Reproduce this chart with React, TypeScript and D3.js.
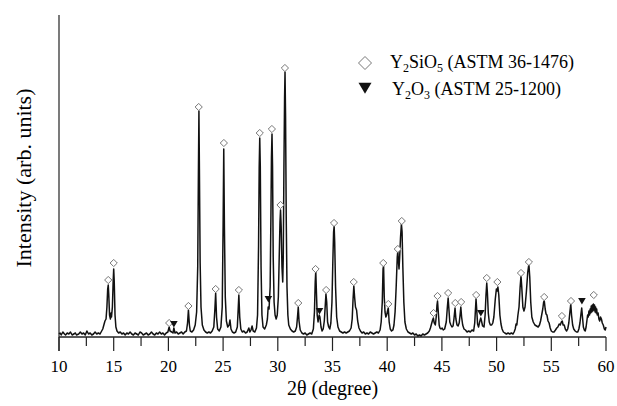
import React from "react";
import * as d3 from "d3";

const W = 617;
const H = 406;
const margin = { top: 15, right: 11, bottom: 69, left: 59 };
const FONT = "Times New Roman, Liberation Serif, Tinos, DejaVu Serif, serif";

// 2-theta (degree) vs intensity (arb. units)
const pattern: [number, number][] = [
  [10.0, 3], [10.1, 4], [10.2, 2], [10.35, 5], [10.5, 3], [10.6, 2], [10.75, 4], [10.9, 3],
  [11.05, 5], [11.2, 2], [11.35, 3], [11.5, 4], [11.6, 2], [11.8, 3], [11.95, 5], [12.1, 3],
  [12.25, 4], [12.4, 2], [12.55, 6], [12.7, 3], [12.85, 4], [13.0, 2], [13.15, 3], [13.3, 5],
  [13.45, 3], [13.6, 4], [13.75, 3], [13.9, 6], [14.0, 8], [14.1, 12], [14.2, 16], [14.3, 18],
  [14.38, 30], [14.45, 48], [14.5, 52], [14.55, 42], [14.62, 22], [14.7, 18], [14.75, 24],
  [14.8, 20], [14.88, 30], [14.95, 55], [15.0, 68], [15.05, 55], [15.12, 22], [15.2, 10],
  [15.3, 6], [15.45, 4], [15.6, 5], [15.75, 3], [15.9, 4], [16.05, 2], [16.2, 4], [16.35, 3],
  [16.5, 5], [16.65, 3], [16.8, 2], [16.95, 4], [17.1, 3], [17.25, 2], [17.4, 5], [17.55, 4],
  [17.7, 2], [17.85, 3], [18.0, 4], [18.15, 2], [18.3, 3], [18.45, 5], [18.6, 3], [18.75, 2],
  [18.9, 4], [19.05, 3], [19.2, 5], [19.35, 3], [19.5, 4], [19.65, 2], [19.8, 4], [19.95, 5],
  [20.07, 10], [20.15, 6], [20.3, 5], [20.42, 4], [20.5, 9], [20.6, 4], [20.75, 5], [20.9, 3],
  [21.05, 4], [21.2, 5], [21.35, 3], [21.5, 5], [21.65, 6], [21.75, 14], [21.83, 27],
  [21.92, 12], [22.0, 6], [22.15, 5], [22.3, 7], [22.45, 12], [22.58, 25], [22.68, 70],
  [22.74, 160], [22.79, 226], [22.84, 160], [22.9, 75], [22.98, 30], [23.1, 12], [23.25, 7],
  [23.4, 5], [23.55, 4], [23.7, 5], [23.85, 4], [24.0, 6], [24.15, 10], [24.25, 28],
  [24.32, 44], [24.4, 20], [24.5, 8], [24.65, 6], [24.8, 10], [24.92, 30], [25.0, 110],
  [25.06, 188], [25.12, 110], [25.2, 40], [25.3, 16], [25.42, 10], [25.55, 12], [25.63, 17],
  [25.72, 8], [25.85, 5], [26.0, 4], [26.15, 5], [26.3, 10], [26.38, 28], [26.44, 42],
  [26.52, 20], [26.62, 8], [26.75, 5], [26.9, 6], [27.05, 4], [27.2, 5], [27.35, 9],
  [27.45, 5], [27.55, 7], [27.65, 11], [27.75, 6], [27.9, 5], [28.05, 9], [28.15, 22],
  [28.24, 90], [28.3, 170], [28.35, 199], [28.4, 170], [28.47, 70], [28.55, 22], [28.65, 10],
  [28.8, 8], [28.95, 12], [29.05, 18], [29.12, 30], [29.2, 28], [29.3, 50], [29.37, 120],
  [29.42, 180], [29.47, 203], [29.52, 170], [29.58, 80], [29.66, 35], [29.75, 22],
  [29.85, 18], [29.95, 22], [30.05, 40], [30.13, 80], [30.2, 115], [30.25, 127], [30.31, 110],
  [30.38, 70], [30.45, 55], [30.5, 80], [30.56, 170], [30.62, 240], [30.66, 265],
  [30.71, 220], [30.77, 120], [30.84, 50], [30.92, 22], [31.0, 12], [31.15, 8], [31.3, 6],
  [31.45, 5], [31.6, 6], [31.72, 10], [31.8, 20], [31.87, 30], [31.94, 16], [32.05, 7],
  [32.2, 4], [32.35, 3], [32.5, 4], [32.65, 2], [32.8, 3], [32.95, 4], [33.1, 3], [33.25, 8],
  [33.35, 25], [33.42, 55], [33.47, 66], [33.53, 45], [33.6, 22], [33.68, 15], [33.78, 22],
  [33.85, 20], [33.95, 10], [34.05, 6], [34.15, 8], [34.25, 16], [34.33, 30], [34.4, 43],
  [34.47, 35], [34.55, 15], [34.65, 10], [34.75, 8], [34.85, 14], [34.95, 35], [35.03, 75],
  [35.1, 105], [35.15, 111], [35.2, 95], [35.28, 50], [35.38, 20], [35.5, 10], [35.65, 6],
  [35.8, 5], [35.95, 4], [36.1, 5], [36.25, 4], [36.4, 5], [36.55, 6], [36.7, 9], [36.8, 18],
  [36.88, 38], [36.95, 51], [37.02, 40], [37.1, 30], [37.2, 27], [37.3, 16], [37.42, 9],
  [37.55, 6], [37.7, 4], [37.85, 5], [38.0, 3], [38.15, 4], [38.3, 3], [38.45, 5], [38.6, 4],
  [38.75, 3], [38.9, 4], [39.05, 5], [39.2, 4], [39.35, 7], [39.45, 15], [39.55, 35],
  [39.62, 68], [39.67, 71], [39.73, 40], [39.8, 25], [39.88, 20], [39.95, 22], [40.05, 27],
  [40.1, 29], [40.18, 15], [40.28, 8], [40.4, 6], [40.52, 7], [40.62, 12], [40.72, 25],
  [40.82, 50], [40.92, 80], [40.97, 86], [41.03, 75], [41.08, 68], [41.14, 80], [41.22, 100],
  [41.3, 113], [41.36, 105], [41.43, 70], [41.52, 35], [41.62, 15], [41.75, 8], [41.9, 5],
  [42.05, 4], [42.2, 3], [42.35, 4], [42.5, 2], [42.65, 3], [42.8, 1], [42.95, 2], [43.1, 1],
  [43.25, 3], [43.4, 2], [43.55, 3], [43.7, 4], [43.85, 6], [43.95, 9], [44.05, 13],
  [44.15, 17], [44.22, 19], [44.3, 14], [44.4, 12], [44.48, 20], [44.55, 32], [44.6, 36],
  [44.67, 25], [44.75, 12], [44.82, 9], [44.92, 8], [45.02, 9], [45.12, 7], [45.25, 8],
  [45.4, 15], [45.5, 30], [45.57, 39], [45.64, 28], [45.72, 15], [45.82, 12], [45.92, 10],
  [46.02, 11], [46.1, 18], [46.2, 29], [46.28, 18], [46.38, 12], [46.48, 11], [46.58, 14],
  [46.66, 22], [46.73, 30], [46.8, 20], [46.9, 12], [47.02, 8], [47.15, 7], [47.3, 5],
  [47.45, 6], [47.6, 5], [47.75, 7], [47.9, 6], [48.0, 14], [48.07, 28], [48.12, 38],
  [48.18, 28], [48.26, 13], [48.35, 10], [48.45, 15], [48.55, 19], [48.62, 16], [48.72, 11],
  [48.85, 10], [48.95, 22], [49.03, 42], [49.1, 54], [49.16, 44], [49.24, 24], [49.33, 15],
  [49.43, 12], [49.55, 12], [49.65, 14], [49.75, 20], [49.88, 38], [49.98, 48], [50.05, 46],
  [50.12, 50], [50.2, 42], [50.3, 22], [50.4, 13], [50.5, 8], [50.62, 5], [50.75, 4],
  [50.9, 3], [51.05, 4], [51.2, 3], [51.35, 4], [51.5, 3], [51.6, 5], [51.7, 8], [51.78, 13],
  [51.85, 12], [51.95, 22], [52.05, 30], [52.15, 50], [52.23, 61], [52.3, 50], [52.4, 30],
  [52.5, 26], [52.6, 30], [52.72, 45], [52.85, 65], [52.95, 73], [53.03, 60], [53.12, 35],
  [53.22, 20], [53.35, 15], [53.5, 12], [53.65, 11], [53.8, 10], [53.92, 12], [54.02, 16],
  [54.12, 22], [54.22, 28], [54.3, 35], [54.36, 36], [54.44, 28], [54.52, 23], [54.6, 22],
  [54.7, 16], [54.8, 14], [54.9, 9], [55.0, 6], [55.12, 5], [55.25, 5], [55.38, 7],
  [55.5, 9], [55.6, 10], [55.72, 13], [55.82, 12], [55.92, 15], [56.0, 16], [56.08, 12],
  [56.18, 12], [56.28, 8], [56.4, 6], [56.5, 8], [56.6, 14], [56.7, 25], [56.78, 33],
  [56.85, 22], [56.95, 12], [57.05, 8], [57.18, 6], [57.3, 5], [57.42, 5], [57.52, 8],
  [57.62, 14], [57.7, 22], [57.78, 29], [57.85, 20], [57.93, 10], [58.02, 7], [58.1, 6],
  [58.18, 10], [58.25, 16], [58.32, 22], [58.38, 20], [58.44, 26], [58.5, 22], [58.55, 28],
  [58.6, 24], [58.65, 31], [58.7, 25], [58.75, 32], [58.8, 26], [58.85, 33], [58.9, 27],
  [58.95, 32], [59.0, 25], [59.05, 30], [59.1, 24], [59.15, 28], [59.2, 22], [59.28, 24],
  [59.35, 18], [59.42, 16], [59.5, 20], [59.58, 18], [59.66, 14], [59.75, 12], [59.85, 8],
  [59.93, 7], [60.0, 10],
];

// marker positions [2theta, intensity]
const y2sio5Marks: [number, number][] = [
  [14.5, 57], [15.0, 74], [20.07, 14], [21.83, 31], [22.77, 230], [24.32, 48], [25.07, 194],
  [26.44, 47], [28.35, 204], [29.46, 208], [30.25, 132], [30.65, 269], [31.87, 34],
  [33.45, 68], [34.42, 47], [35.14, 114], [36.94, 55], [39.64, 74], [40.1, 33], [40.97, 88],
  [41.33, 116], [44.24, 24], [44.6, 41], [45.57, 44], [46.22, 34], [46.76, 35], [48.13, 42],
  [49.1, 59], [50.07, 55], [52.23, 64], [52.95, 75], [54.35, 40], [55.97, 21], [56.8, 36],
  [58.88, 42],
];
const y2o3Marks: [number, number][] = [
  [20.5, 13], [29.14, 38], [33.81, 26], [48.56, 24], [57.8, 36],
];

const xTicks = [10, 15, 20, 25, 30, 35, 40, 45, 50, 55, 60];
const xMinorTicks = [12.5, 17.5, 22.5, 27.5, 32.5, 37.5, 42.5, 47.5, 52.5, 57.5];

const x = d3.scaleLinear().domain([10, 60]).range([margin.left, W - margin.right]);
const y = d3.scaleLinear().domain([0, 322]).range([H - margin.bottom, margin.top]);

const line = d3
  .line<[number, number]>()
  .x((d) => x(d[0]))
  .y((d) => y(d[1]));

const diamond = (cx: number, cy: number, r: number) =>
  `M${cx},${cy - r}L${cx + r},${cy}L${cx},${cy + r}L${cx - r},${cy}Z`;
const triangle = (cx: number, cy: number, r: number) =>
  `M${cx - r},${cy - r * 0.8}L${cx + r},${cy - r * 0.8}L${cx},${cy + r * 0.9}Z`;

export default function App() {
  const y0 = H - margin.bottom;
  return (
    <svg
      width={W}
      height={H}
      style={{ position: "absolute", left: 0, top: 0, background: "#fff", fontFamily: FONT }}
    >
      {/* axes */}
      <line x1={x(10)} x2={x(10)} y1={margin.top} y2={y0 + 14} stroke="#333" strokeWidth={1.3} />
      <line x1={x(10)} x2={x(60)} y1={y0} y2={y0} stroke="#222" strokeWidth={1.3} />
      {xTicks.map((t) => (
        <g key={t}>
          <line x1={x(t)} x2={x(t)} y1={y0} y2={y0 + 14} stroke="#222" strokeWidth={1.2} />
          <text x={x(t)} y={372} textAnchor="middle" fontSize={17}>
            {t}
          </text>
        </g>
      ))}
      {xMinorTicks.map((t) => (
        <line key={t} x1={x(t)} x2={x(t)} y1={y0} y2={y0 + 9} stroke="#222" strokeWidth={1.2} />
      ))}
      <text x={(x(10) + x(60)) / 2} y={395} textAnchor="middle" fontSize={20}>
        2θ (degree)
      </text>
      <text transform="translate(31,178) rotate(-90)" textAnchor="middle" fontSize={22}>
        Intensity (arb. units)
      </text>

      {/* pattern */}
      <path d={line(pattern) ?? ""} fill="none" stroke="#111" strokeWidth={1.5} strokeLinejoin="round" />

      {/* phase markers */}
      {y2sio5Marks.map(([a, b], i) => (
        <path key={"d" + i} d={diamond(x(a), y(b), 3.6)} fill="#fff" stroke="#777" strokeWidth={1} />
      ))}
      {y2o3Marks.map(([a, b], i) => (
        <path key={"t" + i} d={triangle(x(a), y(b), 3.8)} fill="#111" />
      ))}

      {/* legend */}
      <path d={diamond(365, 63, 6.5)} fill="#fff" stroke="#777" strokeWidth={1} />
      <text x={390} y={68} fontSize={18}>
        Y<tspan fontSize={12} dy={4}>2</tspan>
        <tspan dy={-4}>SiO</tspan>
        <tspan fontSize={12} dy={4}>5</tspan>
        <tspan dy={-4}> (ASTM 36-1476)</tspan>
      </text>
      <path d={triangle(365, 88, 6.5)} fill="#111" />
      <text x={392} y={95} fontSize={18}>
        Y<tspan fontSize={12} dy={4}>2</tspan>
        <tspan dy={-4}>O</tspan>
        <tspan fontSize={12} dy={4}>3</tspan>
        <tspan dy={-4}> (ASTM 25-1200)</tspan>
      </text>
    </svg>
  );
}
